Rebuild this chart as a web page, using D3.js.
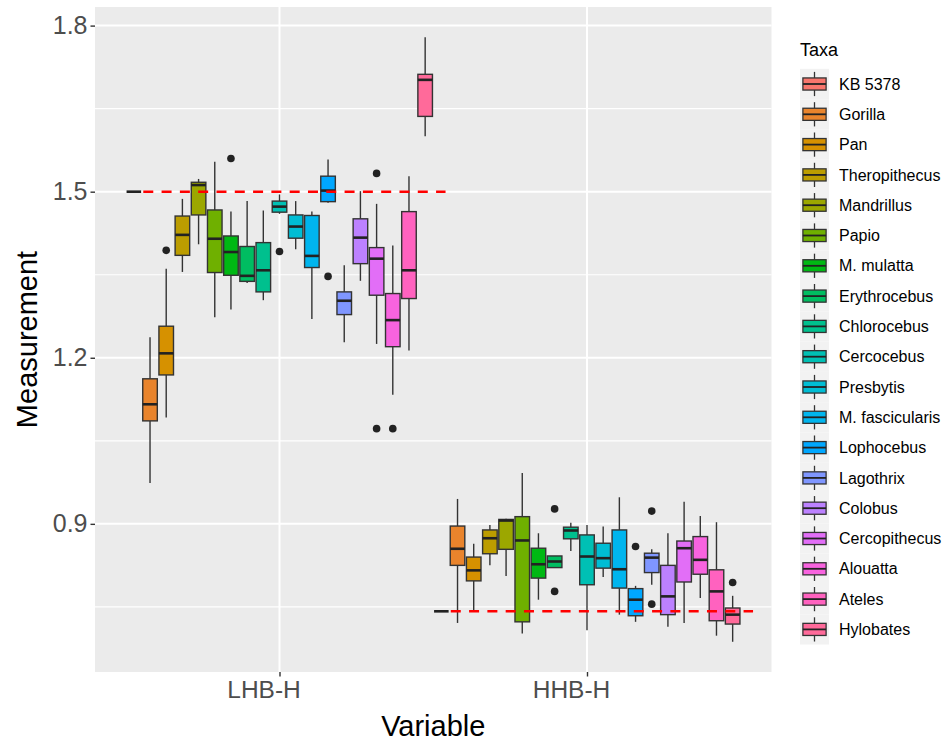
<!DOCTYPE html>
<html>
<head>
<meta charset="utf-8">
<script src="https://cdn.jsdelivr.net/npm/d3@7"></script>
<style>
  html, body { margin: 0; padding: 0; background: #fff; }
  svg { display: block; font-family: "Liberation Sans", Arial, sans-serif; }
</style>
</head>
<body>
<svg id="chart" width="942" height="741"></svg>
<script>
// ---- data -------------------------------------------------------------
const variables = ["LHB-H", "HHB-H"];
const taxa = ["KB 5378", "Gorilla", "Pan", "Theropithecus", "Mandrillus", "Papio",
  "M. mulatta", "Erythrocebus", "Chlorocebus", "Cercocebus", "Presbytis",
  "M. fascicularis", "Lophocebus", "Lagothrix", "Colobus", "Cercopithecus",
  "Alouatta", "Ateles", "Hylobates"];

// LHB-H box statistics per taxon
const lhbLower  = [1.500, 0.974, 1.092, 1.355, 1.405, 1.273, 1.287, 1.335, 1.304, 1.460, 1.396, 1.270, 1.480, 1.228, 1.339, 1.225, 1.133, 1.213, 1.600];
const lhbQ1     = [1.500, 1.086, 1.169, 1.385, 1.458, 1.354, 1.349, 1.338, 1.319, 1.463, 1.416, 1.363, 1.482, 1.278, 1.370, 1.313, 1.220, 1.307, 1.636];
const lhbMedian = [1.500, 1.116, 1.208, 1.422, 1.512, 1.415, 1.391, 1.348, 1.358, 1.473, 1.437, 1.384, 1.502, 1.303, 1.417, 1.379, 1.268, 1.358, 1.702];
const lhbQ3     = [1.500, 1.162, 1.257, 1.456, 1.517, 1.467, 1.420, 1.401, 1.408, 1.483, 1.458, 1.457, 1.528, 1.319, 1.451, 1.399, 1.316, 1.464, 1.712];
const lhbUpper  = [1.500, 1.237, 1.361, 1.487, 1.523, 1.554, 1.464, 1.483, 1.466, 1.495, 1.483, 1.464, 1.558, 1.367, 1.501, 1.478, 1.403, 1.528, 1.779];
const lhbOutliers = [[], [], [1.394], [], [], [], [1.560], [], [], [1.392], [], [], [1.347], [], [], [1.533, 1.072], [1.072], [], []];

// HHB-H box statistics per taxon
const hhbLower  = [0.742, 0.721, 0.743, 0.825, 0.806, 0.702, 0.763, 0.821, 0.851, 0.708, 0.804, 0.736, 0.723, 0.790, 0.714, 0.721, 0.766, 0.698, 0.687];
const hhbQ1     = [0.742, 0.825, 0.797, 0.846, 0.854, 0.723, 0.802, 0.821, 0.873, 0.790, 0.820, 0.784, 0.734, 0.812, 0.736, 0.795, 0.809, 0.725, 0.719];
const hhbMedian = [0.742, 0.855, 0.816, 0.874, 0.906, 0.870, 0.827, 0.832, 0.888, 0.841, 0.838, 0.818, 0.763, 0.839, 0.769, 0.856, 0.835, 0.778, 0.736];
const hhbQ3     = [0.742, 0.896, 0.840, 0.889, 0.908, 0.913, 0.856, 0.842, 0.894, 0.880, 0.865, 0.889, 0.783, 0.847, 0.825, 0.869, 0.877, 0.817, 0.748];
const hhbUpper  = [0.742, 0.945, 0.864, 0.898, 0.909, 0.992, 0.883, 0.842, 0.902, 0.898, 0.895, 0.948, 0.788, 0.854, 0.883, 0.940, 0.914, 0.903, 0.770];
const hhbOutliers = [[], [], [], [], [], [], [], [0.927, 0.778], [], [], [], [], [0.859], [0.923, 0.755], [], [], [], [], [0.794]];

const yTicks = [0.9, 1.2, 1.5, 1.8];
const yMinorTicks = [0.75, 1.05, 1.35, 1.65];
const referenceTaxon = "KB 5378";

// ---- records ----------------------------------------------------------
function buildRows(variable, lo, q1, med, q3, hi, outs) {
  return taxa.map((t, i) => ({
    variable, taxon: t, lower: lo[i], q1: q1[i], median: med[i], q3: q3[i], upper: hi[i], outliers: outs[i]
  }));
}
const rows = buildRows("LHB-H", lhbLower, lhbQ1, lhbMedian, lhbQ3, lhbUpper, lhbOutliers)
  .concat(buildRows("HHB-H", hhbLower, hhbQ1, hhbMedian, hhbQ3, hhbUpper, hhbOutliers));

// ---- hue palette (polar LUV, as used by the R hcl() function) ----------
function hclLuv(h, c, l) {
  const Xn = 95.047, Yn = 100, Zn = 108.883;
  const un = 4 * Xn / (Xn + 15 * Yn + 3 * Zn), vn = 9 * Yn / (Xn + 15 * Yn + 3 * Zn);
  const hr = h * Math.PI / 180;
  const U = c * Math.cos(hr), V = c * Math.sin(hr);
  const Y = Yn * (l > 7.999592 ? Math.pow((l + 16) / 116, 3) : l / 903.3);
  const u = U / (13 * l) + un, v = V / (13 * l) + vn;
  const X = 9 * Y * u / (4 * v);
  const Z = -X / 3 - 5 * Y + 3 * Y / v;
  const x = X / 100, y = Y / 100, z = Z / 100;
  const lin = [
    3.240479 * x - 1.537150 * y - 0.498535 * z,
    -0.969256 * x + 1.875992 * y + 0.041556 * z,
    0.055648 * x - 0.204043 * y + 1.057311 * z
  ];
  const g = lin.map(t => {
    const s = t <= 0.0031308 ? 12.92 * t : 1.055 * Math.pow(t, 1 / 2.4) - 0.055;
    return Math.round(Math.max(0, Math.min(1, s)) * 255);
  });
  return d3.rgb(g[0], g[1], g[2]).formatHex();
}
const palette = taxa.map((t, i) => hclLuv(15 + i * 360 / taxa.length, 100, 65));
const color = d3.scaleOrdinal().domain(taxa).range(palette);

// ---- layout -----------------------------------------------------------
const svg = d3.select("#chart");
const panel = { left: 95, right: 771.5, top: 7, bottom: 672 };

const x = d3.scalePoint().domain(variables).range([panel.left, panel.right]).padding(0.6);
const step = x.step();
const xInner = d3.scaleBand().domain(taxa).range([-step / 2, step / 2]).paddingInner(0.1).paddingOuter(0.05);

const allValues = rows.flatMap(r => [r.lower, r.upper, ...r.outliers]);
const [vMin, vMax] = d3.extent(allValues);
const pad = (vMax - vMin) * 0.05;
const y = d3.scaleLinear().domain([vMin - pad, vMax + pad]).range([panel.bottom, panel.top]);

// panel background and grid
svg.append("rect")
  .attr("x", panel.left).attr("y", panel.top)
  .attr("width", panel.right - panel.left).attr("height", panel.bottom - panel.top)
  .attr("fill", "#EBEBEB");

const grid = svg.append("g");
grid.selectAll("line.minor").data(yMinorTicks).join("line")
  .attr("x1", panel.left).attr("x2", panel.right)
  .attr("y1", d => y(d)).attr("y2", d => y(d))
  .attr("stroke", "#fff").attr("stroke-width", 1.2);
grid.selectAll("line.major").data(yTicks).join("line")
  .attr("x1", panel.left).attr("x2", panel.right)
  .attr("y1", d => y(d)).attr("y2", d => y(d))
  .attr("stroke", "#fff").attr("stroke-width", 2);
grid.selectAll("line.vmajor").data(variables).join("line")
  .attr("x1", d => x(d)).attr("x2", d => x(d))
  .attr("y1", panel.top).attr("y2", panel.bottom)
  .attr("stroke", "#fff").attr("stroke-width", 2);

// ---- boxplots ---------------------------------------------------------
const bw = xInner.bandwidth();
const lineColor = "#333333";
const boxes = svg.append("g").selectAll("g").data(rows).join("g")
  .attr("transform", d => `translate(${x(d.variable) + xInner(d.taxon) + bw / 2},0)`);

boxes.append("line")
  .attr("x1", 0).attr("x2", 0)
  .attr("y1", d => y(d.upper)).attr("y2", d => y(d.q3))
  .attr("stroke", lineColor).attr("stroke-width", 1.4);
boxes.append("line")
  .attr("x1", 0).attr("x2", 0)
  .attr("y1", d => y(d.q1)).attr("y2", d => y(d.lower))
  .attr("stroke", lineColor).attr("stroke-width", 1.4);
boxes.append("rect")
  .attr("x", -bw / 2).attr("width", bw)
  .attr("y", d => y(d.q3)).attr("height", d => y(d.q1) - y(d.q3))
  .attr("fill", d => color(d.taxon))
  .attr("stroke", lineColor).attr("stroke-width", 1.4);
boxes.append("line")
  .attr("x1", -bw / 2).attr("x2", bw / 2)
  .attr("y1", d => y(d.median)).attr("y2", d => y(d.median))
  .attr("stroke", "#222").attr("stroke-width", 2.6);
boxes.selectAll("circle").data(d => d.outliers).join("circle")
  .attr("cx", 0).attr("cy", v => y(v)).attr("r", 3.8)
  .attr("fill", "#222");

// reference lines at the KB 5378 value of each variable
const refRows = rows.filter(r => r.taxon === referenceTaxon);
svg.append("g").selectAll("line").data(refRows).join("line")
  .attr("x1", d => x(d.variable) - 0.443 * step)
  .attr("x2", d => x(d.variable) + 0.54 * step)
  .attr("y1", d => y(d.median)).attr("y2", d => y(d.median))
  .attr("stroke", "#FF0000").attr("stroke-width", 2.6)
  .attr("stroke-dasharray", "10,8.3");

// ---- axes -------------------------------------------------------------
const yAxis = svg.append("g").attr("transform", `translate(${panel.left},0)`)
  .call(d3.axisLeft(y).tickValues(yTicks).tickFormat(d3.format(".1f")).tickSize(4.5).tickPadding(3));
yAxis.select(".domain").remove();
yAxis.selectAll(".tick line").attr("stroke", "#333").attr("stroke-width", 1.4);
yAxis.selectAll(".tick text").attr("fill", "#4D4D4D").attr("font-size", 25)
  .attr("font-family", "Liberation Sans, Arial, sans-serif");

const xAxis = svg.append("g").attr("transform", `translate(0,${panel.bottom})`)
  .call(d3.axisBottom(x).tickSize(4.5).tickPadding(4));
xAxis.select(".domain").remove();
xAxis.selectAll(".tick line").attr("stroke", "#333").attr("stroke-width", 1.4);
xAxis.selectAll(".tick text").attr("fill", "#4D4D4D").attr("font-size", 24.5)
  .attr("font-family", "Liberation Sans, Arial, sans-serif")
  .attr("dx", -16);

svg.append("text")
  .attr("x", (panel.left + panel.right) / 2).attr("y", 736)
  .attr("text-anchor", "middle").attr("font-size", 29).attr("fill", "#000")
  .text("Variable");
svg.append("text")
  .attr("transform", `translate(37,${(panel.top + panel.bottom) / 2}) rotate(-90)`)
  .attr("text-anchor", "middle").attr("font-size", 29).attr("fill", "#000")
  .text("Measurement");

// ---- legend -----------------------------------------------------------
const legend = svg.append("g").attr("transform", "translate(800,0)");
legend.append("text").attr("x", 0).attr("y", 56)
  .attr("font-size", 18).attr("fill", "#000").text("Taxa");
const keyH = 30.3, keyW = 29, keyTop = 84 - keyH / 2;
const keys = legend.selectAll("g.key").data(taxa).join("g")
  .attr("transform", (d, i) => `translate(0,${keyTop + i * keyH})`);
keys.append("rect").attr("width", keyW).attr("height", keyH).attr("fill", "#F2F2F2");
keys.append("line").attr("x1", keyW / 2).attr("x2", keyW / 2)
  .attr("y1", keyH * 0.1).attr("y2", keyH * 0.3)
  .attr("stroke", lineColor).attr("stroke-width", 1.3);
keys.append("line").attr("x1", keyW / 2).attr("x2", keyW / 2)
  .attr("y1", keyH * 0.7).attr("y2", keyH * 0.9)
  .attr("stroke", lineColor).attr("stroke-width", 1.3);
keys.append("rect").attr("x", keyW * 0.1).attr("width", keyW * 0.8)
  .attr("y", keyH * 0.3).attr("height", keyH * 0.4)
  .attr("fill", d => color(d)).attr("stroke", lineColor).attr("stroke-width", 1.3);
keys.append("line").attr("x1", keyW * 0.1).attr("x2", keyW * 0.9)
  .attr("y1", keyH / 2).attr("y2", keyH / 2)
  .attr("stroke", "#222").attr("stroke-width", 1.8);
keys.append("text").attr("x", 39).attr("y", keyH / 2).attr("dy", "0.35em")
  .attr("font-size", 16).attr("fill", "#000").text(d => d);
</script>
</body>
</html>
